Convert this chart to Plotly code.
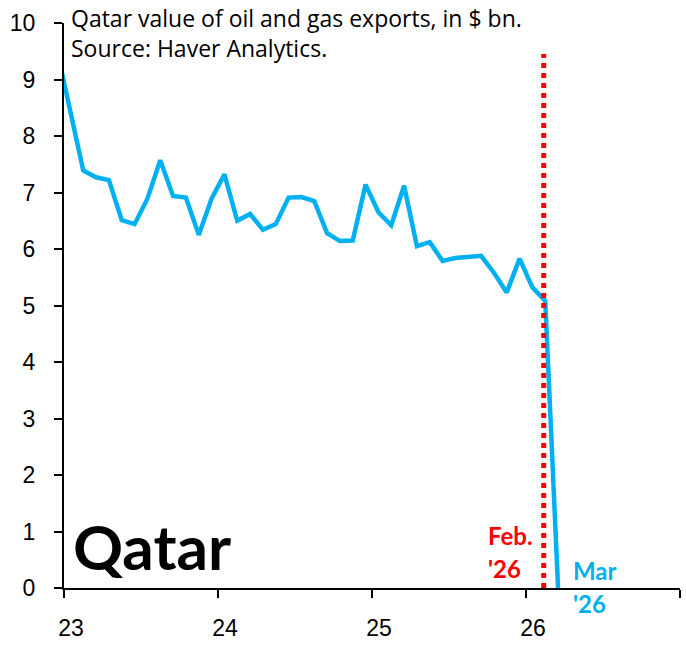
import plotly.graph_objects as go

# Monthly data, Dec 2022 .. Mar 2026 (Qatar oil & gas exports, $ bn)
months = ["2022-12",
          "2023-01", "2023-02", "2023-03", "2023-04", "2023-05", "2023-06",
          "2023-07", "2023-08", "2023-09", "2023-10", "2023-11", "2023-12",
          "2024-01", "2024-02", "2024-03", "2024-04", "2024-05", "2024-06",
          "2024-07", "2024-08", "2024-09", "2024-10", "2024-11", "2024-12",
          "2025-01", "2025-02", "2025-03", "2025-04", "2025-05", "2025-06",
          "2025-07", "2025-08", "2025-09", "2025-10", "2025-11", "2025-12",
          "2026-01", "2026-02", "2026-03"]
values = [9.47,
          8.45, 7.39, 7.27, 7.22, 6.51, 6.44,
          6.89, 7.57, 6.94, 6.91, 6.25, 6.89,
          7.32, 6.50, 6.62, 6.34, 6.44, 6.91,
          6.92, 6.85, 6.28, 6.14, 6.15, 7.14,
          6.65, 6.42, 7.12, 6.05, 6.12, 5.79,
          5.84, 5.86, 5.88, 5.58, 5.23, 5.83,
          5.32, 5.08, 0.0]

x_tickvals = [23, 24, 25, 26, 27]
x_ticktext = ["23", "24", "25", "26", ""]
y_tickvals = list(range(0, 11))

feb_marker_x = 26.115
feb_marker_top = 9.45

title_line1 = "Qatar value of oil and gas exports, in $ bn."
title_line2 = "Source: Haver Analytics."
country_label = "Qatar"

# month position: mid-month in year units (yy + (mm-0.5)/12)
xs = [int(m[2:4]) + (int(m[5:7]) - 0.5) / 12 for m in months]

BLUE = "#00B0F0"
RED = "#FF0000"

fig = go.Figure()
fig.add_trace(go.Scatter(x=xs, y=values, mode="lines",
                         line=dict(color=BLUE, width=4.5),
                         hoverinfo="skip", showlegend=False))

fig.add_shape(type="line", xref="x", yref="y",
              x0=feb_marker_x, x1=feb_marker_x, y0=0, y1=feb_marker_top,
              line=dict(color=RED, width=5, dash="5px,5px"), layer="above")

tick_font = dict(family="Liberation Sans, Arial, sans-serif", size=23, color="black")

fig.update_xaxes(range=[23, 27], tickvals=x_tickvals, ticktext=x_ticktext,
                 showline=True, linecolor="black", linewidth=2,
                 ticks="outside", ticklen=8, tickwidth=2, tickcolor="black",
                 showgrid=False, zeroline=False, tickfont=tick_font,
                 ticklabelshift=7, ticklabelstandoff=10)
fig.update_yaxes(range=[0, 10], tickvals=y_tickvals,
                 showline=True, linecolor="black", linewidth=2,
                 ticks="outside", ticklen=8, tickwidth=2, tickcolor="black",
                 showgrid=False, zeroline=False, tickfont=tick_font,
                 ticklabelstandoff=14)

title_font = "Open Sans, Noto Sans, sans-serif"
bold_font = "Lato, Inter, sans-serif"
annotations = [
    dict(text=title_line1 + "<br>" + title_line2, xref="paper", yref="paper",
         x=0.008, y=0.982, xanchor="left", yanchor="middle", align="left",
         showarrow=False,
         font=dict(family=title_font, size=23, color="black")),
    dict(text="<b>" + country_label + "</b>", xref="paper", yref="paper",
         x=0.012, y=0.075, xanchor="left", yanchor="middle", showarrow=False,
         font=dict(family=bold_font, size=62, color="black")),
    dict(text="<b>Feb.</b>", xref="x", yref="paper", x=25.74, y=0.093,
         xanchor="left", yanchor="middle", showarrow=False,
         font=dict(family=bold_font, size=24, color=RED)),
    dict(text="<b>'26</b>", xref="x", yref="paper", x=25.74, y=0.034,
         xanchor="left", yanchor="middle", showarrow=False,
         font=dict(family=bold_font, size=24, color=RED)),
    dict(text="<b>Mar</b>", xref="x", yref="paper", x=26.29, y=0.031,
         xanchor="left", yanchor="middle", showarrow=False,
         font=dict(family=bold_font, size=24, color=BLUE)),
    dict(text="<b>'26</b>", xref="x", yref="paper", x=26.29, y=-0.028,
         xanchor="left", yanchor="middle", showarrow=False,
         font=dict(family=bold_font, size=24, color=BLUE)),
]

fig.update_layout(width=686, height=647,
                  margin=dict(l=64, r=6, t=23, b=54),
                  paper_bgcolor="white", plot_bgcolor="white",
                  annotations=annotations, showlegend=False)

fig.write_html("out.html", config={"displayModeBar": False})
